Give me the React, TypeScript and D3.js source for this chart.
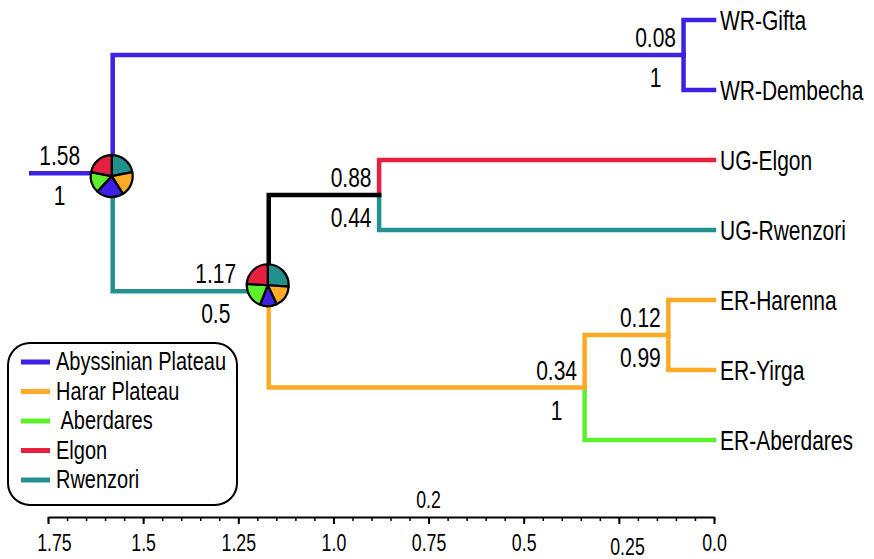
import React, { useEffect, useRef } from 'react'
import * as d3 from 'd3'

// regions (legend order)
const regionNames = ['Abyssinian Plateau', 'Harar Plateau', ' Aberdares', 'Elgon', 'Rwenzori']
const regionColors = ['#3c20e4', '#fdab26', '#5ef02c', '#e5213f', '#23908f']

// tree: tips then internal nodes
const nodeNames = ['WR-Gifta', 'WR-Dembecha', 'UG-Elgon', 'UG-Rwenzori', 'ER-Harenna', 'ER-Yirga', 'ER-Aberdares',
  'root', 'n117', 'n088', 'n034', 'n012', 'n008']
const nodeParents = ['n008', 'n008', 'n088', 'n088', 'n012', 'n012', 'n034',
  '', 'root', 'n117', 'n117', 'n034', 'root']
const nodeAges = [0, 0, 0, 0, 0, 0, 0, 1.58, 1.17, 0.88, 0.34, 0.12, 0.08]
// region index of the branch leading to node, -1 = black
const branchRegion = [0, 0, 3, 4, 1, 1, 2, 0, 4, -1, 1, 1, 0]
const rootStemAge = 1.8

// node labels
const labelNodes = ['root', 'n117', 'n088', 'n034', 'n012', 'n008']
const ageLabels = ['1.58', '1.17', '0.88', '0.34', '0.12', '0.08']
const supportLabels = ['1', '0.5', '0.44', '1', '0.99', '1']

// ancestral area pies (slice order clockwise from 12 o'clock)
const pieNodes = ['root', 'n117']
const pieSliceRegions = [4, 1, 0, 2, 3]
const pieValues = [
  [0.22, 0.19, 0.21, 0.16, 0.22],
  [0.26, 0.17, 0.13, 0.2, 0.24],
]

const axisTicks = [1.75, 1.5, 1.25, 1.0, 0.75, 0.5, 0.25, 0.0]
const axisTickLabels = ['1.75', '1.5', '1.25', '1.0', '0.75', '0.5', '0.25', '0.0']

const FONT = "'Liberation Sans', Arial, sans-serif"

function App() {
  const refSvg = useRef(null)
  const draw = () => {
    const svg = d3.select(refSvg.current)
    svg.selectAll('*').remove()

    const x = d3.scaleLinear().domain([1.75, 0]).range([48, 714])
    const yTip = d3.scaleLinear().domain([0, 6]).range([20, 440])

    const pos: Record<string, { x: number; y: number }> = {}
    const children: Record<string, string[]> = {}
    nodeNames.forEach((n, i) => {
      const p = nodeParents[i]
      if (p) (children[p] = children[p] || []).push(n)
    })
    const place = (n: string): number => {
      const i = nodeNames.indexOf(n)
      let y: number
      if (children[n]) {
        const ys = children[n].map(place)
        y = (ys[0] + ys[ys.length - 1]) / 2
      } else {
        y = yTip(i)
      }
      pos[n] = { x: x(nodeAges[i]), y }
      return y
    }
    place('root')

    const color = (r: number) => (r < 0 ? '#000' : regionColors[r])
    const g = svg.append('g')
    const lineW = 4.5

    // narrow text (condensed look)
    const label = (parent: any, tx: number, ty: number, s: string, size: number, sx: number, anchor = 'start') =>
      parent.append('text')
        .attr('transform', `translate(${tx},${ty}) scale(${sx},1)`)
        .attr('text-anchor', anchor)
        .attr('font-family', FONT).attr('font-size', size)
        .style('white-space', 'pre')
        .text(s)

    // root stem
    g.append('line')
      .attr('x1', x(rootStemAge)).attr('x2', pos.root.x)
      .attr('y1', pos.root.y).attr('y2', pos.root.y)
      .attr('stroke', regionColors[0]).attr('stroke-width', lineW)

    nodeNames.forEach((n, i) => {
      const p = nodeParents[i]
      if (!p) return
      const c = color(branchRegion[i])
      const pp = pos[p]
      const np = pos[n]
      g.append('path')
        .attr('d', `M${pp.x},${pp.y}V${np.y}H${np.x}`)
        .attr('fill', 'none')
        .attr('stroke', c)
        .attr('stroke-width', lineW)
        .attr('stroke-linejoin', 'miter')
        .attr('stroke-linecap', 'square')
    })

    // tip labels
    nodeNames.forEach((n) => {
      if (children[n]) return
      label(g, pos[n].x + 6, pos[n].y + 10, n, 28, 0.75)
    })

    // node labels
    labelNodes.forEach((n, i) => {
      const off = pieNodes.includes(n) ? 53 : 28
      const cx = pos[n].x - off
      label(g, cx, pos[n].y - 8, ageLabels[i], 28, 0.75, 'middle')
      label(g, cx, pos[n].y + 32, supportLabels[i], 28, 0.75, 'middle')
    })

    // pies
    const pie = d3.pie<number>().sort(null).value((d) => d)
    const arc = d3.arc<d3.PieArcDatum<number>>().innerRadius(0).outerRadius(21)
    pieNodes.forEach((n, k) => {
      const pg = g.append('g').attr('transform', `translate(${pos[n].x - 1},${pos[n].y + (k === 0 ? 3 : -6)})`)
      pg.selectAll('path')
        .data(pie(pieValues[k]))
        .join('path')
        .attr('d', arc as any)
        .attr('fill', (d, j) => regionColors[pieSliceRegions[j]])
        .attr('stroke', '#000')
        .attr('stroke-width', 2.2)
        .attr('stroke-linejoin', 'round')
    })

    // legend
    const lg = g.append('g')
    lg.append('rect')
      .attr('x', 8).attr('y', 343).attr('width', 229).attr('height', 162)
      .attr('rx', 22).attr('fill', '#fff').attr('stroke', '#000').attr('stroke-width', 2)
    regionNames.forEach((r, i) => {
      const ly = 362 + i * 29.5
      lg.append('line')
        .attr('x1', 21).attr('x2', 50).attr('y1', ly).attr('y2', ly)
        .attr('stroke', regionColors[i]).attr('stroke-width', 5)
      label(lg, 56, ly + 8, r, 25, 0.8)
    })

    // time axis
    const ay = 517
    const minor = d3.axisBottom(x).tickValues(d3.range(0, 1.7501, 0.05)).tickSize(4).tickFormat(() => '')
    const ag1 = g.append('g').attr('transform', `translate(0,${ay})`).call(minor)
    ag1.select('.domain').remove()
    ag1.selectAll('line').attr('stroke-width', 1.5)
    const major = d3.axisBottom(x).tickValues(axisTicks).tickSize(7).tickSizeOuter(0)
      .tickFormat((d, i) => axisTickLabels[i])
    const ag = g.append('g').attr('transform', `translate(0,${ay})`).call(major)
    ag.select('.domain').attr('stroke-width', 2)
    ag.selectAll('.tick line').attr('stroke-width', 2)
    ag.selectAll('.tick text')
      .attr('font-family', FONT).attr('font-size', 24).attr('fill', '#000')
      .attr('transform', 'scale(0.74,1)')
      .attr('dy', (d: any) => (d === 0.25 ? '1.15em' : '1.0em'))
      .attr('dx', (d: any) => (d === 0.25 ? 11 : d === 1.75 ? 8 : 0))

    label(g, x(0.75), ay - 9, '0.2', 24, 0.74, 'middle')
  }

  useEffect(() => {
    if (refSvg) {
      draw()
    }
  })
  return (
    <svg ref={refSvg} width={874} height={559}
      style={{ position: 'absolute', left: 0, top: 0, background: '#fff' }} />
  )
}

export default App
